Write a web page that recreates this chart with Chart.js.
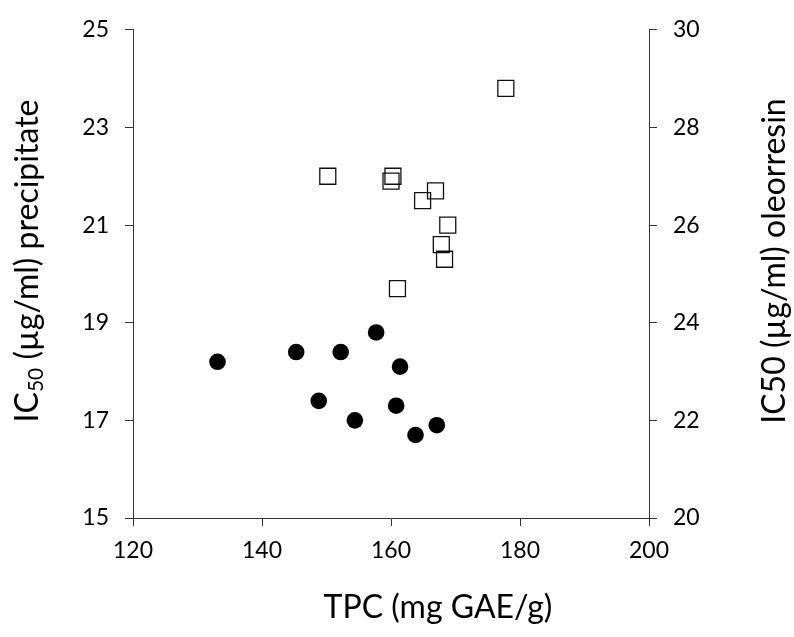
<!DOCTYPE html>
<html><head><meta charset="utf-8">
<script src="https://cdn.jsdelivr.net/npm/chart.js@4.4.0/dist/chart.umd.min.js"></script>
<style>html,body{margin:0;padding:0;background:#fff}#wrap{width:794px;height:637px}</style>
</head><body><div id="wrap"><canvas id="c" width="794" height="637"></canvas></div>
<script>
// Data
const tpcPrecipitate = [133.1, 145.3, 152.2, 157.7, 161.4, 148.8, 154.4, 160.8, 163.8, 167.1];
const ic50Precipitate = [18.2, 18.4, 18.4, 18.8, 18.1, 17.4, 17.0, 17.3, 16.7, 16.9];
const tpcOleoresin = [177.8, 150.2, 160.3, 160.0, 166.9, 164.9, 168.8, 167.8, 168.3, 161.0];
const ic50Oleoresin = [28.8, 27.0, 27.0, 26.9, 26.7, 26.5, 26.0, 25.6, 25.3, 24.7];
const xTickValues = [120, 140, 160, 180, 200];
const yLeftTickValues = [15, 17, 19, 21, 23, 25];
const yRightTickValues = [20, 22, 24, 26, 28, 30];
const xTitle = 'TPC (mg GAE/g)';
const yLeftTitle = ['IC', '50', ' (µg/ml) precipitate'];
const yRightTitle = 'IC50 (µg/ml) oleorresin';

const FONT = 'Lato';
const AXIS = '#333333';
const TITLE_SIZE = 32;

function pts(xs, ys) { return xs.map((x, i) => ({x: x, y: ys[i]})); }

const axisTitles = {
  id: 'axisTitles',
  afterDraw(chart) {
    const ctx = chart.ctx;
    const big = TITLE_SIZE + 'px ' + FONT, small = Math.round(TITLE_SIZE * 0.65) + 'px ' + FONT;
    ctx.save();
    ctx.fillStyle = '#000';
    ctx.textBaseline = 'middle';
    // x title
    ctx.font = big;
    ctx.textAlign = 'center';
    ctx.fillText(xTitle, 438, 608);
    // left title with subscript
    ctx.font = big; const w1 = ctx.measureText(yLeftTitle[0]).width;
    ctx.font = small; const w2 = ctx.measureText(yLeftTitle[1]).width;
    ctx.font = big; const w3 = ctx.measureText(yLeftTitle[2]).width;
    const tot = w1 + w2 + w3;
    ctx.save();
    ctx.translate(28, 261);
    ctx.rotate(-Math.PI / 2);
    ctx.textAlign = 'left';
    let x0 = -tot / 2;
    ctx.font = big; ctx.fillText(yLeftTitle[0], x0, 0); x0 += w1;
    ctx.font = small; ctx.fillText(yLeftTitle[1], x0, 8); x0 += w2;
    ctx.font = big; ctx.fillText(yLeftTitle[2], x0, 0);
    ctx.restore();
    // right title
    ctx.save();
    ctx.translate(775, 261);
    ctx.rotate(-Math.PI / 2);
    ctx.textAlign = 'center';
    ctx.font = big;
    ctx.fillText(yRightTitle, 0, 0);
    ctx.restore();
    ctx.restore();
  }
};

const gridCommon = {drawOnChartArea: false, drawTicks: true, tickLength: 8, color: AXIS, lineWidth: 1};
const tickFont = {family: FONT, size: 23};

new Chart(document.getElementById('c'), {
  type: 'scatter',
  data: {
    datasets: [
      {label: 'precipitate', data: pts(tpcPrecipitate, ic50Precipitate), yAxisID: 'y',
       pointStyle: 'circle', pointRadius: 8.3, pointHoverRadius: 8.3,
       backgroundColor: '#000', borderColor: '#000', borderWidth: 0},
      {label: 'oleorresin', data: pts(tpcOleoresin, ic50Oleoresin), yAxisID: 'y2',
       pointStyle: 'rect', pointRadius: 11.3, pointHoverRadius: 11.3,
       backgroundColor: 'rgba(0,0,0,0)', borderColor: '#111', borderWidth: 1.3}
    ]
  },
  options: {
    responsive: false, animation: false, devicePixelRatio: 1,
    layout: {padding: {top: 24, left: 0, right: 0, bottom: 0}},
    plugins: {legend: {display: false}, tooltip: {enabled: false}},
    scales: {
      x: {type: 'linear', position: 'bottom', min: 120, max: 200,
          afterBuildTicks: s => { s.ticks = xTickValues.map(v => ({value: v})); },
          afterFit: s => { s.height = 119; },
          grid: gridCommon, border: {display: true, color: AXIS, width: 1},
          ticks: {color: '#000', font: tickFont, padding: 11, maxRotation: 0}},
      y: {type: 'linear', position: 'left', min: 15, max: 25,
          afterBuildTicks: s => { s.ticks = yLeftTickValues.map(v => ({value: v})); },
          afterFit: s => { s.width = 133; },
          grid: gridCommon, border: {display: true, color: AXIS, width: 1},
          ticks: {color: '#000', font: tickFont, padding: 16}},
      y2: {type: 'linear', position: 'right', min: 20, max: 30,
          afterBuildTicks: s => { s.ticks = yRightTickValues.map(v => ({value: v})); },
          afterFit: s => { s.width = 145; },
          grid: gridCommon, border: {display: true, color: AXIS, width: 1},
          ticks: {color: '#000', font: tickFont, padding: 16}}
    }
  },
  plugins: [axisTitles]
});
</script></body></html>
